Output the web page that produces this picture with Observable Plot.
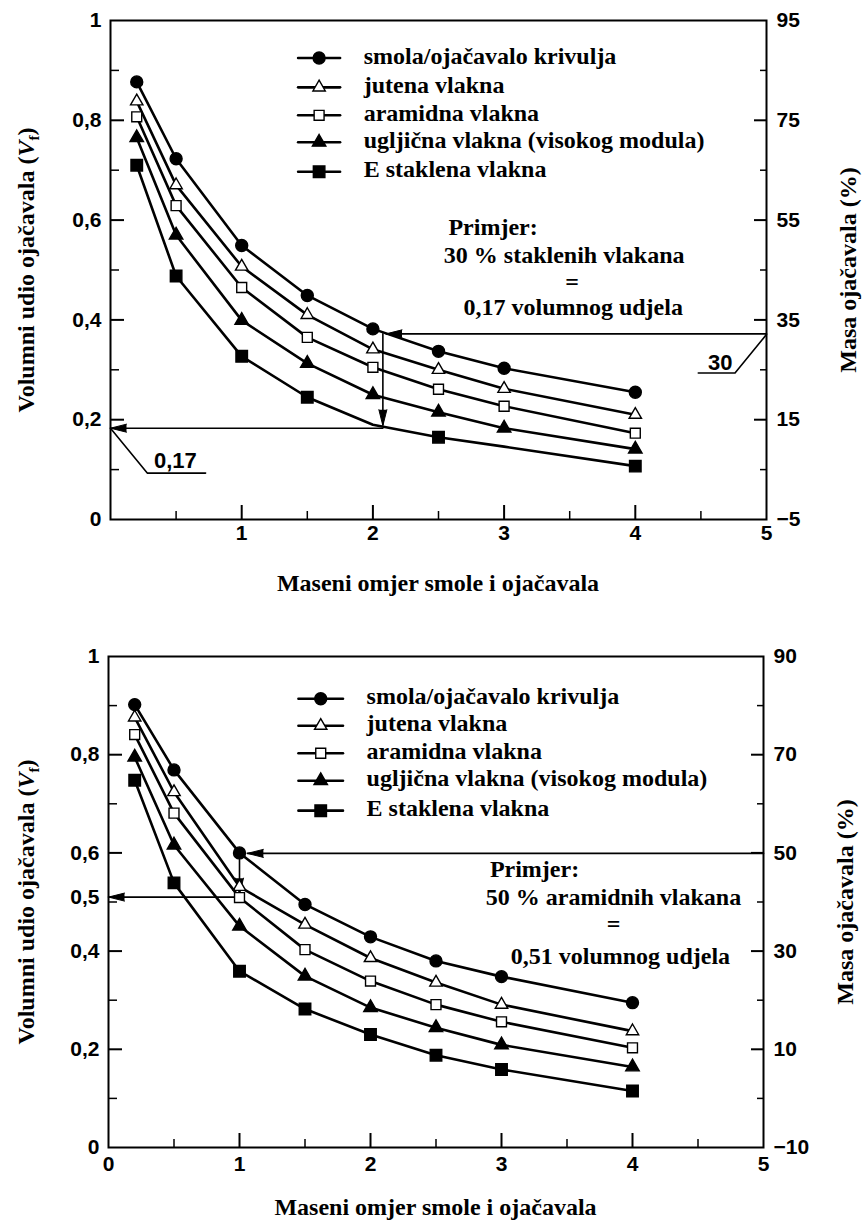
<!DOCTYPE html>
<html><head><meta charset="utf-8">
<script src="https://cdn.jsdelivr.net/npm/d3@7"></script>
<script src="https://cdn.jsdelivr.net/npm/@observablehq/plot@0.6"></script>
<style>
body{margin:0;background:#fff}
svg{display:block}
.xt{font-family:'Liberation Serif';font-weight:bold;font-size:24px;line-height:26px;text-align:center;color:#000;width:862px;box-sizing:border-box}
</style>
</head><body>
<div id="c1"></div>
<div class="xt" id="t1" style="height:47px;padding-top:5px;padding-left:14px"></div>
<div id="c2"></div>
<div class="xt" id="t2" style="height:30px;padding-top:0px;padding-left:9px"></div>
<script>
// ---------- DATA ----------
const ratio = [0.2, 0.5, 1, 1.5, 2, 2.5, 3, 4];
const seriesNames = ["smola/ojačavalo krivulja", "jutena vlakna", "aramidna vlakna", "ugljična vlakna (visokog modula)", "E staklena vlakna"];

// top chart (30 % glass example)
const topSmola   = [0.877, 0.723, 0.549, 0.449, 0.382, 0.337, 0.303, 0.255];
const topJuta    = [0.838, 0.670, 0.507, 0.410, 0.341, 0.300, 0.262, 0.210];
const topAramid  = [0.807, 0.629, 0.465, 0.365, 0.305, 0.261, 0.227, 0.173];
const topUglj    = [0.765, 0.570, 0.399, 0.313, 0.250, 0.215, 0.183, 0.141];
const topStaklo  = [0.710, 0.488, 0.327, 0.245, 0.190, 0.165, 0.146, 0.107];
const topStakloMarkers = [0.2, 0.5, 1, 1.5, 2.5, 4];

// bottom chart (50 % aramid example)
const botSmola   = [0.902, 0.769, 0.600, 0.495, 0.429, 0.380, 0.348, 0.295];
const botJuta    = [0.876, 0.724, 0.531, 0.454, 0.386, 0.336, 0.291, 0.237];
const botAramid  = [0.841, 0.681, 0.509, 0.403, 0.339, 0.291, 0.256, 0.203];
const botUglj    = [0.795, 0.616, 0.451, 0.349, 0.285, 0.244, 0.209, 0.164];
const botStaklo  = [0.748, 0.539, 0.359, 0.282, 0.230, 0.188, 0.159, 0.115];

// axes
const leftTicks = [0, 0.2, 0.4, 0.6, 0.8, 1];
const leftMinor = [0.1, 0.3, 0.5, 0.7, 0.9];
const rightTopLabels = [95, 75, 55, 35, 15, -5];
const rightBotLabels = [90, 70, 50, 30, 10, -10];
const xTopLabels = [1, 2, 3, 4, 5];
const xBotLabels = [0, 1, 2, 3, 4, 5];
const xMajor = [1, 2, 3, 4];
const xMinor = [0.5, 1.5, 2.5, 3.5, 4.5];

const yTitle = "Volumni udio ojačavala (Vf)";
const yRightTitle = "Masa ojačavala (%)";
const xTitle = "Maseni omjer smole i ojačavala";

// annotations top
const topNoteText = ["Primjer:", "30 % staklenih vlakana", "=", "0,17 volumnog udjela"];
const topNoteX = [2.916, 3.458, 3.519, 3.527];
const topNoteY = [0.585, 0.529, 0.475, 0.425];
const topPaths = [
  [[5, 0.372], [2.10, 0.372]],
  [[2.076, 0.372], [2.076, 0.19]],
  [[2.076, 0.183], [0, 0.183]],
  [[0, 0.183], [0.28, 0.093], [0.725, 0.093]],
  [[5, 0.371], [4.76, 0.2935], [4.48, 0.2935]]
];
const topHeads = [[2.10, 0.372, -90], [2.076, 0.188, 180], [0, 0.183, -90]];
const topCallouts = [["0,17", 0.494, 0.118], ["30", 4.647, 0.313]];

// annotations bottom
const botNoteText = ["Primjer:", "50 % aramidnih vlakana", "=", "0,51 volumnog udjela"];
const botNoteX = [3.252, 3.855, 3.855, 3.908];
const botNoteY = [0.566, 0.509, 0.454, 0.390];
const botPaths = [
  [[5, 0.599], [1.06, 0.599]],
  [[1.0, 0.599], [1.0, 0.518]],
  [[0.98, 0.51], [0, 0.51]]
];
const botHeads = [[1.06, 0.599, -90], [1.0, 0.516, 180], [0, 0.51, -90]];
const botArrowLabel = ["0,5", 0.51];

// legend
const topLegendY = [0.925, 0.866, 0.810, 0.756, 0.697];
const topLegendX = [1.43, 1.59, 1.75, 1.93];
const botLegendY = [0.914, 0.859, 0.803, 0.747, 0.686];
const botLegendX = [1.45, 1.62, 1.79, 1.97];

// ---------- STYLE ----------
const symbolStyles = [
  {symbol: "circle",   fill: "#000", r: 6},
  {symbol: "triangle", fill: "#fff", r: 4.6},
  {symbol: "square",   fill: "#fff", r: 5.6},
  {symbol: "triangle", fill: "#000", r: 5},
  {symbol: "square",   fill: "#000", r: 6.5}
];
const SERIF = "Liberation Serif";
const SANS = "Liberation Sans";
const fmtComma = d => String(d).replace(".", ",");
const fmtMinus = d => d < 0 ? "\u2212" + Math.abs(d) : String(d);

function makeChart(cfg) {
  const W = 862, H = cfg.height;
  const fw = W - cfg.ml - cfg.mr, fh = H - cfg.mt - cfg.mb;
  const marks = [];
  marks.push(Plot.frame({stroke: "#000", strokeWidth: 2}));
  // inward ticks
  marks.push(Plot.tickY(leftTicks.slice(1, -1), {y: d => d, insetRight: fw - 14, stroke: "#000", strokeWidth: 2}));
  marks.push(Plot.tickY(leftMinor, {y: d => d, insetRight: fw - 9, stroke: "#000", strokeWidth: 1.5}));
  marks.push(Plot.tickY(leftTicks.slice(1, -1), {y: d => d, insetLeft: fw - 12, stroke: "#000", strokeWidth: 2}));
  marks.push(Plot.tickY(leftMinor, {y: d => d, insetLeft: fw - 6, stroke: "#000", strokeWidth: 1.5}));
  marks.push(Plot.tickX(xMajor, {x: d => d, insetTop: fh - 14, stroke: "#000", strokeWidth: 2}));
  marks.push(Plot.tickX(xMinor, {x: d => d, insetTop: fh - 8, stroke: "#000", strokeWidth: 1.5}));
  // tick labels (sans)
  const tl = {fontFamily: SANS, fontWeight: "bold", fontSize: 21, fill: "#000"};
  marks.push(Plot.text(cfg.leftLabels, {y: d => d[1], text: d => d[0], frameAnchor: "left", dx: -9, textAnchor: "end", ...tl}));
  marks.push(Plot.text(cfg.rightLabels, {y: d => (d + cfg.rightOffset) / 100, text: fmtMinus, frameAnchor: "right", dx: 10, textAnchor: "start", ...tl}));
  marks.push(Plot.text(cfg.xLabels, {x: d => d, text: d => String(d), frameAnchor: "bottom", dy: cfg.xLabelDy, ...tl}));
  marks.push(Plot.text(cfg.callouts, {x: d => d[1], y: d => d[2], text: d => d[0], ...tl, fontSize: 22}));
  // serif texts
  const tt = {fontFamily: SERIF, fontWeight: "bold", fontSize: 24, fill: "#000"};
  marks.push(Plot.text([yTitle], {y: 0.5, text: d => d, frameAnchor: "left", textAnchor: "middle", dx: 26 - cfg.ml, rotate: -90, ...tt}));
  marks.push(Plot.text([yRightTitle], {y: 0.5, text: d => d, frameAnchor: "right", textAnchor: "middle", dx: 82, rotate: -90, ...tt}));
  marks.push(Plot.text(cfg.noteText, {x: (d, i) => cfg.noteX[i], y: (d, i) => cfg.noteY[i], text: d => d, ...tt}));
  // annotation lines
  cfg.paths.forEach(p => marks.push(Plot.line(p, {x: d => d[0], y: d => d[1], stroke: "#000", strokeWidth: 1.6})));
  marks.push(Plot.vector(cfg.heads, {x: d => d[0], y: d => d[1], rotate: d => d[2], length: 16, r: 4, anchor: "end", shape: "spike", fill: "#000", stroke: "#000", strokeWidth: 1}));
  // series
  cfg.values.forEach((vals, i) => {
    const rows = vals.map((v, j) => ({x: ratio[j], y: v}));
    marks.push(Plot.line(rows, {x: "x", y: "y", stroke: "#000", strokeWidth: 2.6}));
    const st = symbolStyles[i];
    const mk = cfg.markerAt && cfg.markerAt[i] ? rows.filter(r => cfg.markerAt[i].includes(r.x)) : rows;
    marks.push(Plot.dot(mk, {x: "x", y: "y", symbol: st.symbol, fill: st.fill, r: st.r, stroke: "#000", strokeWidth: 1.4}));
  });
  // legend
  const lx = cfg.legendX;
  seriesNames.forEach((name, i) => {
    const ly = cfg.legendY[i];
    const st = symbolStyles[i];
    marks.push(Plot.line([[lx[0], ly], [lx[2], ly]], {x: d => d[0], y: d => d[1], stroke: "#000", strokeWidth: 2.6}));
    marks.push(Plot.dot([[lx[1], ly]], {x: d => d[0], y: d => d[1], symbol: st.symbol, fill: st.fill, r: st.r, stroke: "#000", strokeWidth: 1.4}));
    marks.push(Plot.text([name], {x: lx[3], y: ly, text: d => d, textAnchor: "start", dy: -2, ...tt}));
  });

  const svg = Plot.plot({
    width: W, height: H,
    marginLeft: cfg.ml, marginRight: cfg.mr, marginTop: cfg.mt, marginBottom: cfg.mb,
    x: {domain: [0, 5], axis: null},
    y: {domain: [0, 1], axis: null},
    marks
  });
  svg.style.background = "#fff";
  svg.style.overflow = "visible";
  const ns = "http://www.w3.org/2000/svg";
  svg.querySelectorAll("text").forEach(t => {
    if (t.textContent === yTitle) {
      t.textContent = "";
      t.appendChild(document.createTextNode("Volumni udio ojačavala ("));
      const v = document.createElementNS(ns, "tspan"); v.setAttribute("font-style", "italic"); v.textContent = "V"; t.appendChild(v);
      const f = document.createElementNS(ns, "tspan"); f.setAttribute("font-size", "15"); f.setAttribute("dy", "5"); f.textContent = "f"; t.appendChild(f);
      const c = document.createElementNS(ns, "tspan"); c.setAttribute("dy", "-5"); c.textContent = ")"; t.appendChild(c);
    }
  });
  return svg;
}

const leftTopLabels = leftTicks.map(v => [fmtComma(v), v]);
const leftBotLabels = leftTicks.map(v => [fmtComma(v), v]).concat([botArrowLabel]);

const chartTop = makeChart({
  height: 565, ml: 110, mr: 96, mt: 20, mb: 46, xLabelDy: 20,
  values: [topSmola, topJuta, topAramid, topUglj, topStaklo],
  markerAt: [null, null, null, null, topStakloMarkers],
  leftLabels: leftTopLabels, rightLabels: rightTopLabels, rightOffset: 5, xLabels: xTopLabels,
  paths: topPaths, heads: topHeads, callouts: topCallouts,
  noteText: topNoteText, noteX: topNoteX, noteY: topNoteY,
  legendX: topLegendX, legendY: topLegendY
});
const chartBottom = makeChart({
  height: 582, ml: 108, mr: 99, mt: 44, mb: 47, xLabelDy: 23,
  values: [botSmola, botJuta, botAramid, botUglj, botStaklo],
  leftLabels: leftBotLabels, rightLabels: rightBotLabels, rightOffset: 10, xLabels: xBotLabels,
  paths: botPaths, heads: botHeads, callouts: [],
  noteText: botNoteText, noteX: botNoteX, noteY: botNoteY,
  legendX: botLegendX, legendY: botLegendY
});
document.getElementById("c1").append(chartTop);
document.getElementById("c2").append(chartBottom);
document.getElementById("t1").textContent = xTitle;
document.getElementById("t2").textContent = xTitle;
</script>
</body></html>
